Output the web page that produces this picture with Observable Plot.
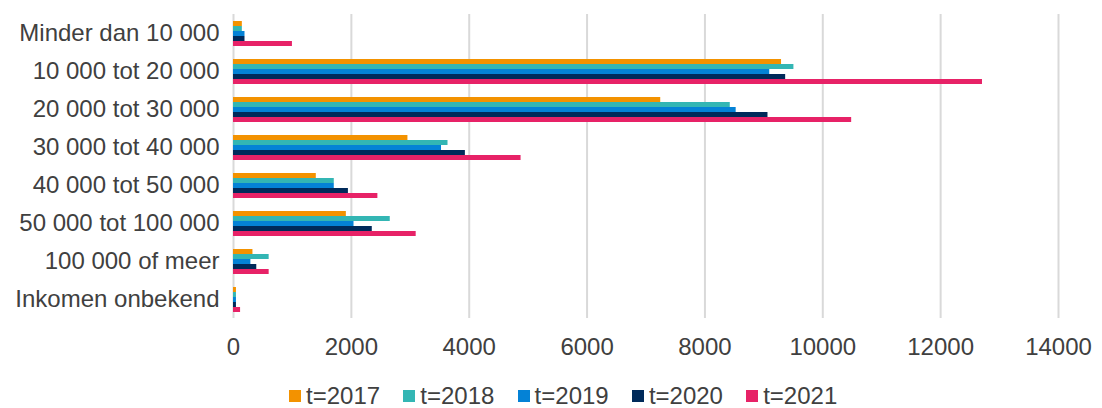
<!DOCTYPE html>
<html>
<head>
<meta charset="utf-8">
<script src="https://cdn.jsdelivr.net/npm/d3@7"></script>
<script src="https://cdn.jsdelivr.net/npm/@observablehq/plot@0.6"></script>
<style>
  html, body { margin: 0; padding: 0; background: #fff; }
  body { width: 1102px; height: 408px; position: relative; overflow: hidden; font-family: "Liberation Sans", Arial, sans-serif; }
  #legend { position: absolute; left: 289px; top: 385px; height: 22px; display: flex; font-size: 24px; color: #404040; line-height: 22px; }
  .item { display: flex; align-items: center; width: 114.3px; white-space: nowrap; }
  .sw { width: 12px; height: 12px; margin-right: 5px; flex: none; }
</style>
</head>
<body>
<div id="chart"></div>
<div id="legend"></div>
<script>
const categories = [
  "Minder dan 10 000",
  "10 000 tot 20 000",
  "20 000 tot 30 000",
  "30 000 tot 40 000",
  "40 000 tot 50 000",
  "50 000 tot 100 000",
  "100 000 of meer",
  "Inkomen onbekend"
];
const years = ["t=2017", "t=2018", "t=2019", "t=2020", "t=2021"];
const v2017 = [150, 9300, 7250, 2960, 1405, 1915, 330, 50];
const v2018 = [150, 9510, 8430, 3640, 1710, 2660, 605, 50];
const v2019 = [195, 9100, 8530, 3530, 1710, 2045, 295, 50];
const v2020 = [195, 9370, 9070, 3935, 1950, 2355, 395, 50];
const v2021 = [1000, 12710, 10490, 4880, 2450, 3100, 605, 120];
const xTicks = [0, 2000, 4000, 6000, 8000, 10000, 12000, 14000];
const colors = ["#f39200", "#33b6b4", "#0482d6", "#002a5a", "#e72267"];

const series = [v2017, v2018, v2019, v2020, v2021];
const data = [];
categories.forEach((c, i) => {
  years.forEach((y, j) => data.push({category: c, year: y, value: series[j][i]}));
});

const plot = Plot.plot({
  width: 1102,
  height: 370,
  marginTop: 12,
  marginBottom: 51,
  marginLeft: 233,
  marginRight: 44,
  style: {fontSize: "24px", fontFamily: "'Liberation Sans', Arial, sans-serif", color: "#404040", background: "#fff"},
  x: {domain: [0, 14000], ticks: xTicks, tickFormat: d => String(d), tickSize: 0, tickPadding: 19, label: null},
  fy: {domain: categories, padding: 0, axis: "left", tickSize: 0, tickPadding: 14, label: null},
  y: {domain: years, axis: null, paddingInner: 0, paddingOuter: 0.93},
  color: {domain: years, range: colors},
  marks: [
    Plot.ruleX(xTicks, {stroke: "#d9d9d9", strokeWidth: 2}),
    Plot.barX(data, {x: "value", y: "year", fy: "category", fill: "year"})
  ]
});
document.getElementById("chart").appendChild(plot);

const color = plot.scale("color");
const legend = document.getElementById("legend");
years.forEach((y, j) => {
  const it = document.createElement("div");
  it.className = "item";
  const sw = document.createElement("span");
  sw.className = "sw";
  sw.style.background = color.range[j];
  const t = document.createElement("span");
  t.textContent = y;
  it.appendChild(sw);
  it.appendChild(t);
  legend.appendChild(it);
});
</script>
</body>
</html>
